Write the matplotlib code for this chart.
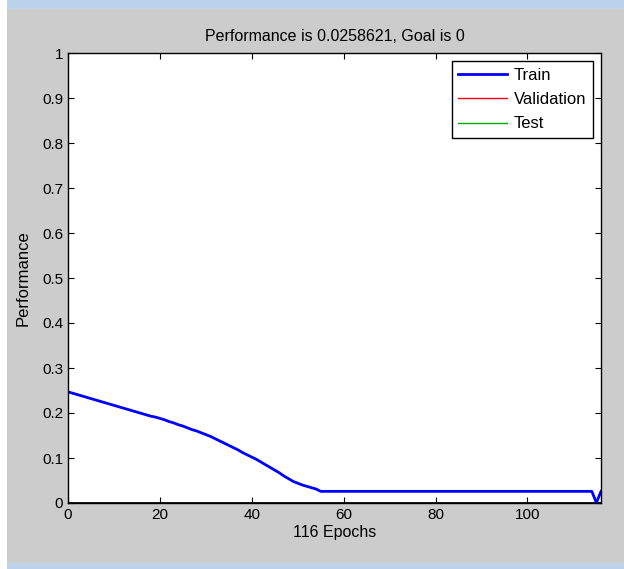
import numpy as np
import matplotlib.pyplot as plt
from matplotlib.patches import Rectangle

plt.rcParams['font.family'] = ['Liberation Sans', 'DejaVu Sans']
plt.rcParams['font.size'] = 11

# 训练误差曲线 (epoch 0-54 读图估计)
train_head = [0.247, 0.244, 0.241, 0.238, 0.235, 0.232, 0.229, 0.226, 0.223, 0.220,
              0.217, 0.214, 0.211, 0.208, 0.205, 0.202, 0.199, 0.196, 0.193, 0.191,
              0.188, 0.185, 0.181, 0.178, 0.174, 0.171, 0.167, 0.163, 0.160, 0.156,
              0.152, 0.148, 0.143, 0.138, 0.133, 0.128, 0.123, 0.118, 0.112, 0.107,
              0.102, 0.097, 0.091, 0.085, 0.079, 0.073, 0.067, 0.060, 0.054, 0.048,
              0.044, 0.040, 0.037, 0.034, 0.031]
train_flat = 0.0258621
train_tail = [0.0005, 0.0258621]
train = train_head + [train_flat] * (115 - len(train_head)) + train_tail
epochs = np.arange(len(train))

xticks = [0, 20, 40, 60, 80, 100]
yticks = [0, 0.1, 0.2, 0.3, 0.4, 0.5, 0.6, 0.7, 0.8, 0.9, 1]
ytick_labels = ['0', '0.1', '0.2', '0.3', '0.4', '0.5', '0.6', '0.7', '0.8', '0.9', '1']

fig = plt.figure(figsize=(6.24, 5.69), dpi=100, facecolor='#cccccc')

# 外框: 顶部/底部浅蓝条, 左侧白条
fig.patches.append(Rectangle((0, 1 - 9 / 569), 1, 9 / 569, transform=fig.transFigure,
                             facecolor='#bdd3ec', edgecolor='none', zorder=-1))
fig.patches.append(Rectangle((0, 0), 1, 6 / 569, transform=fig.transFigure,
                             facecolor='#bdd3ec', edgecolor='none', zorder=-1))
fig.patches.append(Rectangle((0, 0), 7 / 624, 1, transform=fig.transFigure,
                             facecolor='white', edgecolor='none', zorder=-1))

ax = fig.add_axes([68 / 624, 66 / 569, 533 / 624, 450 / 569])
ax.set_facecolor('white')

ax.plot(epochs, train, color='#0000ff', lw=2, label='Train')
ax.plot([], [], color='#ff0000', lw=1, label='Validation')
ax.plot([], [], color='#00aa00', lw=1, label='Test')
ax.axhline(0, color='black', lw=2, zorder=1)

ax.set_xlim(0, 116)
ax.set_ylim(0, 1)
ax.set_xticks(xticks)
ax.set_yticks(yticks)
ax.set_yticklabels(ytick_labels)
ax.tick_params(direction='in', top=True, right=True, length=4, colors='black',
               labelsize=11)
for s in ax.spines.values():
    s.set_linewidth(1)

ax.set_title('Performance is 0.0258621, Goal is 0', fontsize=11.5, pad=9)
ax.set_xlabel('116 Epochs', fontsize=11.5, labelpad=2)
ax.set_ylabel('Performance', fontsize=12, labelpad=8)

leg = ax.legend(loc='upper right', fancybox=False, edgecolor='black', framealpha=1,
                handlelength=2.9, handletextpad=0.4, borderaxespad=0.5,
                labelspacing=0.55, fontsize=12, borderpad=0.4)
leg.get_frame().set_linewidth(1)

fig.savefig('out.png', dpi=100, facecolor=fig.get_facecolor())
